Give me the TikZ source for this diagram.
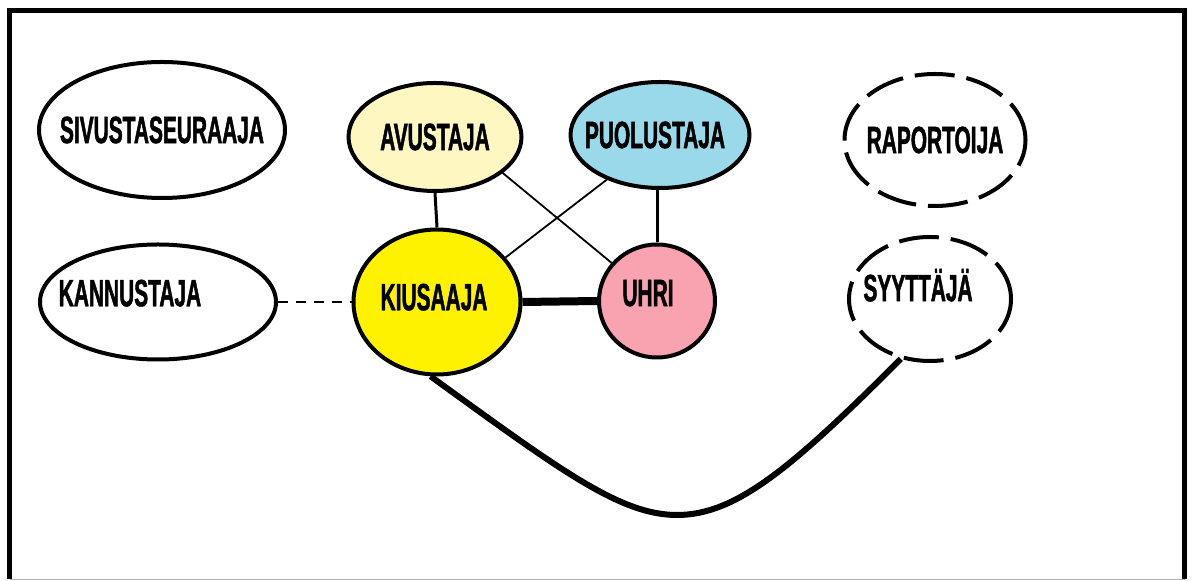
\documentclass[tikz,border=0pt]{standalone}
\usepackage{fontspec}
\newfontfamily\roolifontti{Liberation Sans}[FakeStretch=0.55,FakeBold=1.2]
\usepackage{tikz}
\usetikzlibrary{shapes.geometric}
\definecolor{vaaleankeltainen}{HTML}{FFF7C2}
\definecolor{vaaleansininen}{HTML}{99D9EA}
\definecolor{keltainen}{HTML}{FFF200}
\definecolor{vaaleanpunainen}{HTML}{F9A3B0}
\tikzstyle{rooli} = [ellipse,draw=black,line width=2pt,inner sep=0pt,text=black,font=\roolifontti\bfseries\fontsize{19}{19}\selectfont]
\tikzstyle{katkorooli} = [rooli,dash pattern=on 20pt off 6pt]
\tikzstyle{yhteys} = [line width=1.5pt]
\tikzstyle{ohut} = [line width=0.9pt]
% teksti ilman leveytta, pois keskelta: vasemmalle #1/2, ylos #2/2
\newcommand{\siirra}[3]{\makebox[0pt]{\raisebox{#2}{#3}\hspace*{#1}}}

\begin{document}
\begin{tikzpicture}[x=0.5pt,y=-0.5pt]
\useasboundingbox (0,0) rectangle (1193,581);

% kehys
\coordinate (ka) at (9.5,579.5);
\coordinate (kb) at (9.5,10.5);
\coordinate (kc) at (1184.5,10.5);
\coordinate (kd) at (1184.5,579.5);
\draw[line width=2.2pt] (ka) -- (kb) -- (kc) -- (kd);
\draw[black!30,line width=0.5pt] (ka) -- (kd);

\node (siv) [rooli,minimum width=123pt,minimum height=68pt] at (162,130) {\siirra{0pt}{0pt}{SIVUSTASEURAAJA}};
\node (kan) [rooli,minimum width=118pt,minimum height=57.5pt] at (158,302) {\siirra{28pt}{9pt}{KANNUSTAJA}};
\node (avu) [rooli,fill=vaaleankeltainen,minimum width=86.5pt,minimum height=54pt] at (435,137) {\siirra{0pt}{0pt}{AVUSTAJA}};
\node (puo) [rooli,fill=vaaleansininen,minimum width=89.5pt,minimum height=53pt] at (660,135) {\siirra{5pt}{0pt}{PUOLUSTAJA}};
\node (kiu) [rooli,fill=keltainen,minimum width=83.5pt,minimum height=72.5pt] at (437,302) {\siirra{3pt}{5pt}{KIUSAAJA}};
\node (uhr) [rooli,fill=vaaleanpunainen,minimum width=58pt,minimum height=56.5pt] at (657,301) {\siirra{9pt}{8pt}{UHRI}};
\node (rap) [katkorooli,minimum width=90.5pt,minimum height=66pt] at (935,140) {\siirra{0pt}{0pt}{RAPORTOIJA}};
\node (syy) [katkorooli,minimum width=81pt,minimum height=62pt] at (930,299) {\siirra{12pt}{14pt}{SYYTTÄJÄ}};

\coordinate (pohja) at (677,515);

\draw[yhteys] (avu.south) -- (kiu.north);
\draw[yhteys] (uhr.north |- puo.south) -- (uhr.north);
\draw[ohut] (avu.-28) -- (uhr.140);
\draw[ohut] (puo.-140) -- (kiu.33);
\draw[line width=4pt] (kiu.east) -- (uhr.west);
\draw[line width=1.2pt,dash pattern=on 5pt off 4pt] (kan.east) -- (kiu.west);
\draw[line width=3pt] (kiu.-95) .. controls (560,470) and (620,515) .. (pohja)
  .. controls (735,515) and (790,470) .. (syy.-116);

\end{tikzpicture}
\end{document}
